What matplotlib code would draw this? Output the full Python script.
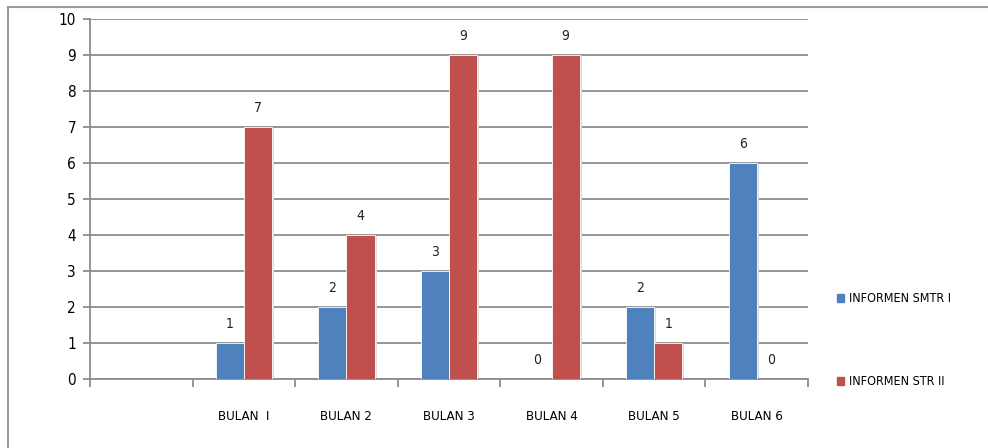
import numpy as np
import matplotlib.pyplot as plt
from matplotlib.patches import Rectangle, Patch

# data
categories = ['', 'BULAN  I', 'BULAN 2', 'BULAN 3', 'BULAN 4', 'BULAN 5', 'BULAN 6']
smtr_1 = [np.nan, 1, 2, 3, 0, 2, 6]
str_2 = [np.nan, 7, 4, 9, 9, 1, 0]
series_names = ['INFORMEN SMTR I', 'INFORMEN STR II']

blue = '#4f81bd'
red = '#c0504d'
grid_c = '#8c8c8c'
plt.rcParams['font.family'] = ['DejaVu Sans']
plt.rcParams['font.stretch'] = 'condensed'

fig = plt.figure(figsize=(9.88, 4.48), dpi=100)
ax = fig.add_axes([90 / 988, 1 - 379 / 448, 718 / 988, 360 / 448])

x = np.arange(len(categories))
w = 0.275
for vals, off, col in [(smtr_1, -w / 2, blue), (str_2, w / 2, red)]:
    v = np.nan_to_num(vals)
    # soft shadow
    ax.bar(x + off + 0.02, v, w, bottom=-0.04, color='#dcdcdc', zorder=2)
    ax.bar(x + off, v, w, color=col, zorder=3, edgecolor='white', linewidth=0.6)
    for xi, val in zip(x + off, vals):
        if np.isnan(val):
            continue
        ax.annotate(f'{int(val)}', (xi, val), xytext=(0, 9), textcoords='offset points',
                    ha='center', va='bottom', fontsize=10, color='#222222')

ax.set_xlim(-0.5, len(categories) - 0.5)
ax.set_ylim(0, 10)
ax.set_yticks(range(0, 11))
ax.yaxis.grid(True, color=grid_c, linewidth=1.3, zorder=0)
ax.set_axisbelow(True)
ax.set_xticks(x)
ax.set_xticklabels(categories, fontsize=9.5)
ax.set_xticks(np.arange(-0.5, len(categories)), minor=True)
ax.tick_params(axis='x', which='major', length=0, pad=22)
ax.tick_params(axis='x', which='minor', length=6, color=grid_c, width=1.3)
ax.tick_params(axis='y', length=5, color=grid_c, width=1.3, labelsize=11, pad=5)
for s in ['top', 'right']:
    ax.spines[s].set_visible(False)
for s in ['left', 'bottom']:
    ax.spines[s].set_color(grid_c)
    ax.spines[s].set_linewidth(1.3)

# outer border, runs off the right and bottom edges
fig.patches.append(Rectangle((8 / 988, -0.1), 1.0, 1 - 7 / 448 + 0.1, transform=fig.transFigure,
                             fill=False, edgecolor='#9a9a9a', linewidth=1.5))

# legend
handles = [Patch(color=blue), Patch(color=red)]
fig.legend(handles, series_names, loc='upper left', bbox_to_anchor=(826 / 988, 1 - 281 / 448),
           frameon=False, fontsize=9, handlelength=0.55, handleheight=0.7, handletextpad=0.4,
           labelspacing=5.6)

fig.savefig('out.png', dpi=100)
